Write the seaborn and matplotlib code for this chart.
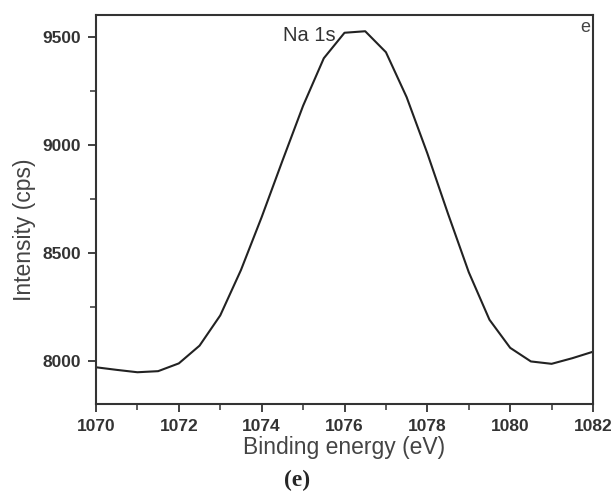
import numpy as np
import pandas as pd
import matplotlib
matplotlib.use("Agg")
import matplotlib.pyplot as plt
from matplotlib.ticker import MultipleLocator
import seaborn as sns

# Na 1s XPS spectrum
binding_energy = [1070.0, 1070.5, 1071.0, 1071.5, 1072.0, 1072.5, 1073.0, 1073.5,
                  1074.0, 1074.5, 1075.0, 1075.5, 1076.0, 1076.5, 1077.0, 1077.5,
                  1078.0, 1078.5, 1079.0, 1079.5, 1080.0, 1080.5, 1081.0, 1081.5,
                  1082.0]
intensity = [7970, 7958, 7947, 7952, 7988, 8070, 8210, 8420,
             8665, 8925, 9180, 9400, 9518, 9525, 9428, 9220,
             8960, 8680, 8410, 8190, 8060, 7997, 7986, 8012,
             8042]

x_ticks = [1070, 1072, 1074, 1076, 1078, 1080, 1082]
y_ticks = [8000, 8500, 9000, 9500]

df = pd.DataFrame({"energy": binding_energy, "intensity": intensity})

sns.set_theme(style="ticks")
plt.rcParams["font.family"] = ["Liberation Sans", "DejaVu Sans"]

fig = plt.figure(figsize=(6.13, 4.93), dpi=100)
ax = fig.add_axes([0.1566, 0.1805, 0.8108, 0.789])

sns.lineplot(data=df, x="energy", y="intensity", ax=ax, color="#222222",
             linewidth=1.5, sort=False)

ax.set_xlim(1070, 1082)
ax.set_ylim(7800, 9600)
ax.set_xticks(x_ticks)
ax.set_yticks(y_ticks)
ax.xaxis.set_minor_locator(MultipleLocator(1))
ax.yaxis.set_minor_locator(MultipleLocator(250))
ax.tick_params(which="major", direction="out", length=6, width=1.3, colors="#333333",
               labelsize=12.5, labelcolor="#333333", pad=5)
ax.tick_params(which="minor", direction="out", length=4, width=1.1, colors="#333333")
for lbl in ax.get_xticklabels() + ax.get_yticklabels():
    lbl.set_fontweight("bold")

for side in ["left", "right", "top", "bottom"]:
    ax.spines[side].set_visible(True)
    ax.spines[side].set_linewidth(1.5)
    ax.spines[side].set_color("#333333")

ax.set_xlabel("Binding energy (eV)", fontsize=16.5, color="#444444", labelpad=1)
ax.set_ylabel("Intensity (cps)", fontsize=16.5, color="#444444", labelpad=4)
ax.yaxis.set_label_coords(-0.121, 0.447)

ax.text(1075.14, 9505, "Na 1s", fontsize=14.5, color="#333333", ha="center", va="center")
ax.text(0.985, 0.969, "e", transform=ax.transAxes, fontsize=13, color="#444444",
        ha="center", va="center")

fig.text(0.484, 0.026, "(e)", fontsize=17, fontweight="bold",
         family=["Liberation Serif", "DejaVu Serif"], ha="center", va="center")

fig.savefig("out.png", dpi=100)
